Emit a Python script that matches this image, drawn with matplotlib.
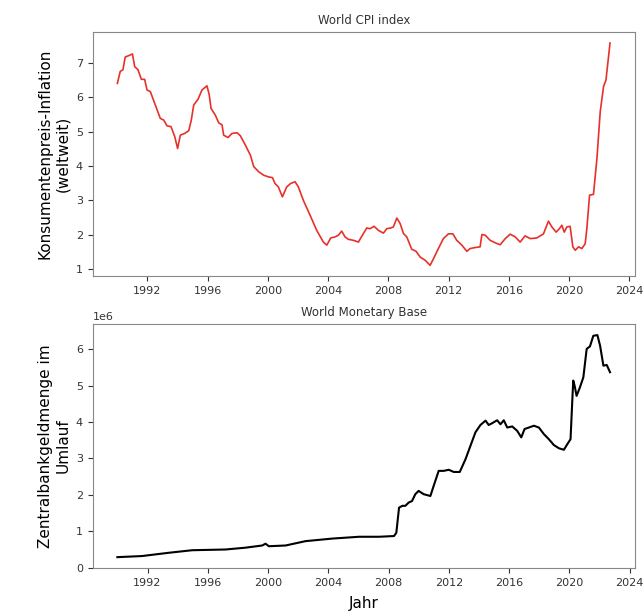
import matplotlib
matplotlib.use("Agg")
import matplotlib.pyplot as plt

# World CPI index (Jahr, Wert)
cpi_years = [1990.0, 1990.19, 1990.37, 1990.52, 1990.75, 1991.0, 1991.15, 1991.37, 1991.59,
             1991.81, 1991.97, 1992.19, 1992.52, 1992.85, 1993.08, 1993.3, 1993.56, 1993.81,
             1994.0, 1994.18, 1994.47, 1994.74, 1994.91, 1995.07, 1995.36, 1995.62, 1995.95,
             1996.1, 1996.22, 1996.5, 1996.73, 1996.95, 1997.06, 1997.35, 1997.61, 1997.95,
             1998.17, 1998.5, 1998.83, 1999.06, 1999.39, 1999.72, 2000.05, 2000.3, 2000.47,
             2000.69, 2000.96, 2001.25, 2001.51, 2001.8, 2002.02, 2002.35, 2002.8, 2003.24,
             2003.68, 2003.91, 2004.17, 2004.46, 2004.68, 2004.9, 2005.12, 2005.34, 2005.68,
             2006.01, 2006.3, 2006.56, 2006.78, 2007.05, 2007.34, 2007.67, 2007.89, 2008.16,
             2008.33, 2008.56, 2008.78, 2009.0, 2009.22, 2009.55, 2009.84, 2010.11, 2010.44,
             2010.77, 2010.99, 2011.32, 2011.65, 2011.99, 2012.28, 2012.54, 2012.88, 2013.21,
             2013.43, 2013.76, 2014.09, 2014.21, 2014.43, 2014.76, 2015.09, 2015.42, 2015.76,
             2016.09, 2016.42, 2016.75, 2017.08, 2017.42, 2017.86, 2018.3, 2018.63, 2018.86,
             2019.14, 2019.36, 2019.52, 2019.68, 2019.85, 2020.07, 2020.25, 2020.41, 2020.63,
             2020.85, 2021.07, 2021.18, 2021.36, 2021.62, 2021.85, 2022.07, 2022.29, 2022.45,
             2022.72]
cpi_values = [6.41, 6.76, 6.81, 7.18, 7.22, 7.27, 6.90, 6.81, 6.53,
              6.53, 6.22, 6.17, 5.78, 5.39, 5.34, 5.17, 5.15, 4.86,
              4.51, 4.90, 4.95, 5.03, 5.34, 5.78, 5.95, 6.22, 6.34,
              6.08, 5.68, 5.49, 5.26, 5.20, 4.90, 4.83, 4.95, 4.97,
              4.88, 4.61, 4.32, 3.98, 3.83, 3.73, 3.68, 3.66, 3.49,
              3.39, 3.10, 3.39, 3.49, 3.54, 3.39, 3.00, 2.56, 2.12,
              1.78, 1.69, 1.90, 1.93, 1.98, 2.10, 1.93, 1.86, 1.83,
              1.78, 2.00, 2.19, 2.17, 2.24, 2.12, 2.04, 2.17, 2.19,
              2.22, 2.48, 2.32, 2.03, 1.93, 1.57, 1.51, 1.34, 1.25,
              1.10, 1.29, 1.59, 1.88, 2.02, 2.02, 1.83, 1.69, 1.51,
              1.59, 1.62, 1.64, 2.00, 1.98, 1.83, 1.76, 1.70, 1.88,
              2.01, 1.93, 1.78, 1.96, 1.88, 1.90, 2.02, 2.39, 2.22,
              2.07, 2.17, 2.27, 2.07, 2.22, 2.24, 1.64, 1.54, 1.64,
              1.59, 1.73, 2.17, 3.15, 3.17, 4.22, 5.59, 6.32, 6.51,
              7.59]

# World Monetary Base (Jahr, Wert in Mio.)
mb_years = [1990.0, 1991.63, 1993.41, 1994.96, 1997.17, 1998.5, 1999.61, 1999.83, 2000.05,
            2001.16, 2002.49, 2004.26, 2006.04, 2007.37, 2008.36, 2008.51, 2008.69, 2008.91,
            2009.11, 2009.33, 2009.55, 2009.77, 2009.99, 2010.32, 2010.77, 2010.99, 2011.32,
            2011.65, 2011.99, 2012.32, 2012.72, 2013.1, 2013.43, 2013.76, 2014.09, 2014.43,
            2014.64, 2014.87, 2015.2, 2015.42, 2015.64, 2015.87, 2016.2, 2016.53, 2016.8,
            2017.02, 2017.3, 2017.64, 2017.97, 2018.3, 2018.63, 2018.96, 2019.3, 2019.63,
            2019.85, 2020.07, 2020.18, 2020.25, 2020.34, 2020.47, 2020.69, 2020.92, 2021.14,
            2021.36, 2021.58, 2021.85, 2022.03, 2022.25, 2022.47, 2022.69]
mb_values = [0.29, 0.32, 0.41, 0.48, 0.50, 0.55, 0.61, 0.66, 0.59,
             0.61, 0.73, 0.80, 0.85, 0.85, 0.87, 0.96, 1.65, 1.70,
             1.70, 1.79, 1.83, 2.02, 2.11, 2.02, 1.97, 2.25, 2.66,
             2.66, 2.69, 2.63, 2.63, 2.98, 3.35, 3.72, 3.92, 4.04,
             3.92, 3.97, 4.05, 3.94, 4.05, 3.85, 3.88, 3.76, 3.58,
             3.81, 3.85, 3.90, 3.85, 3.67, 3.53, 3.37, 3.28, 3.24,
             3.39, 3.53, 4.54, 5.14, 5.00, 4.72, 4.95, 5.23, 6.01,
             6.08, 6.37, 6.39, 6.10, 5.55, 5.57, 5.37]

year_ticks = [1992, 1996, 2000, 2004, 2008, 2012, 2016, 2020, 2024]

fig = plt.figure(figsize=(6.44, 6.13), dpi=100)
ax1 = fig.add_axes([0.144, 0.549, 0.8415, 0.399])
ax2 = fig.add_axes([0.144, 0.073, 0.8415, 0.3985])

ax1.plot(cpi_years, cpi_values, color='#e8302a', lw=1.2)
ax1.set_title("World CPI index", fontsize=8.5, color='#333333')
ax1.set_ylabel("Konsumentenpreis-Inflation\n(weltweit)", fontsize=11)
ax1.set_xticks(year_ticks)

ax2.plot(mb_years, [v * 1e6 for v in mb_values], color='black', lw=1.5)
ax2.set_title("World Monetary Base", fontsize=8.5, color='#333333')
ax2.set_ylabel("Zentralbankgeldmenge im\nUmlauf", fontsize=11)
ax2.set_xlabel("Jahr", fontsize=11, labelpad=6)
ax2.set_xticks(year_ticks)

for ax in (ax1, ax2):
    ax.tick_params(labelsize=8, colors='#333333')
    for s in ax.spines.values():
        s.set_color('#888888')
ax2.yaxis.get_offset_text().set_fontsize(8)

fig.savefig("out.png", dpi=100)
